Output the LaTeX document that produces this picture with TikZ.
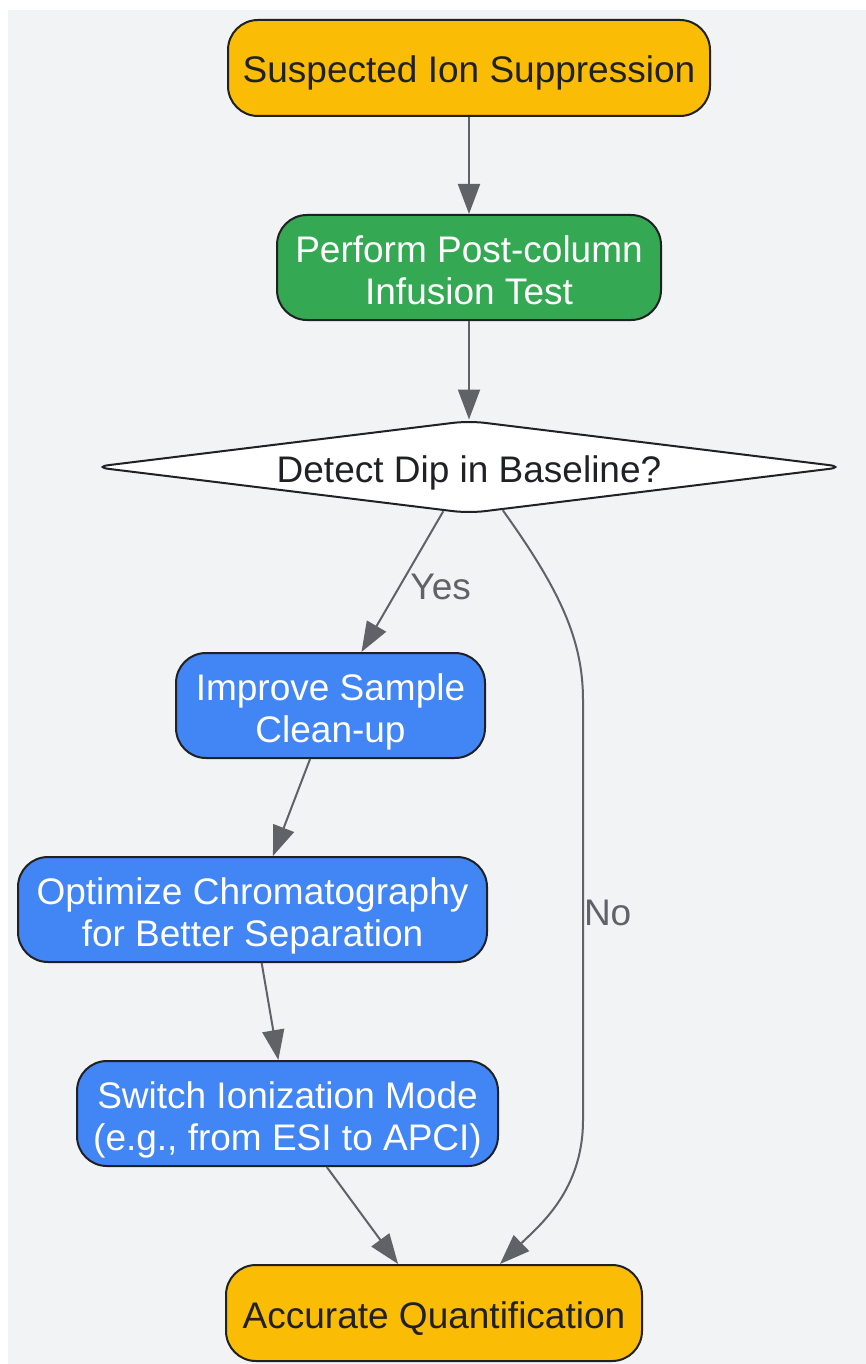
\documentclass[tikz,border=0pt]{standalone}
\usepackage{fontspec}
\setmainfont{Liberation Sans}
\usetikzlibrary{shapes.geometric,arrows.meta}
\definecolor{bgGray}{HTML}{F1F3F4}
\definecolor{lineDark}{HTML}{202124}
\definecolor{edgeGray}{HTML}{5F6368}
\definecolor{gYellow}{HTML}{FBBC05}
\definecolor{gGreen}{HTML}{34A853}
\definecolor{gBlue}{HTML}{4285F4}
\begin{document}
\begin{tikzpicture}[
        x=1pt, y=-1pt,
        box/.style={rectangle,rounded corners=30pt,draw=lineDark,line width=2pt,align=center,inner xsep=14pt,inner ysep=4pt,minimum height=105pt,font=\fontsize{37}{42}\selectfont},
        oneline/.style={text height=30pt,text depth=0pt},
        twoline/.style={text height=73pt,text depth=0pt},
        startend/.style={box,oneline,fill=gYellow,text=lineDark,minimum height=96pt},
        test/.style={box,twoline,fill=gGreen,text=white},
        fix/.style={box,twoline,fill=gBlue,text=white},
        decision/.style={diamond,aspect=8.2,draw=lineDark,line width=2pt,fill=white,text=lineDark,rounded corners=16pt,minimum width=752pt,minimum height=93pt,inner sep=0pt,oneline,font=\fontsize{37}{42}\selectfont},
        flow/.style={draw=edgeGray,line width=2pt,-{Triangle[length=30pt,width=22pt]}},
        lbl/.style={text=edgeGray,font=\fontsize{37}{42}\selectfont}
        ]

        \useasboundingbox (0,0) rectangle (866,1364);
        \fill[bgGray] (8,10) rectangle (866,1364);

        \node (sus) at (469, 68) [startend,minimum width=482pt] {Suspected Ion Suppression};
        \node (pci) at (469, 267.5) [test,minimum width=384pt] {Perform Post-column\\Infusion Test};
        \node (dip) at (469, 467) [decision] {Detect Dip in Baseline?};
        \node (imp) at (330.5, 705.5) [fix,minimum width=309pt] {Improve Sample\\Clean-up};
        \node (opt) at (252.5, 909.5) [fix,minimum width=469pt] {Optimize Chromatography\\for Better Separation};
        \node (swi) at (287.5, 1113.5) [fix,minimum width=421pt] {Switch Ionization Mode\\(e.g., from ESI to APCI)};
        \node (acc) at (434, 1313) [startend,minimum width=416pt] {Accurate Quantification};

        \draw[flow] (sus) to (pci);
        \draw[flow] (pci) to (dip);
        \draw[flow] (dip) -- node[lbl,right=7pt,pos=0.54] {Yes} (imp);
        \draw[flow] (dip.-52) .. controls (560,590) and (583,640) .. (583,700)
            -- node[lbl,right,inner sep=0pt,yshift=-3pt] {No} (583,1120)
            .. controls (583,1190) and (540,1225) .. ([xshift=66pt]acc.north);
        \draw[flow] (imp) to (opt);
        \draw[flow] (opt) to (swi);
        \draw[flow] (swi) to (acc);
      \end{tikzpicture}
\end{document}
